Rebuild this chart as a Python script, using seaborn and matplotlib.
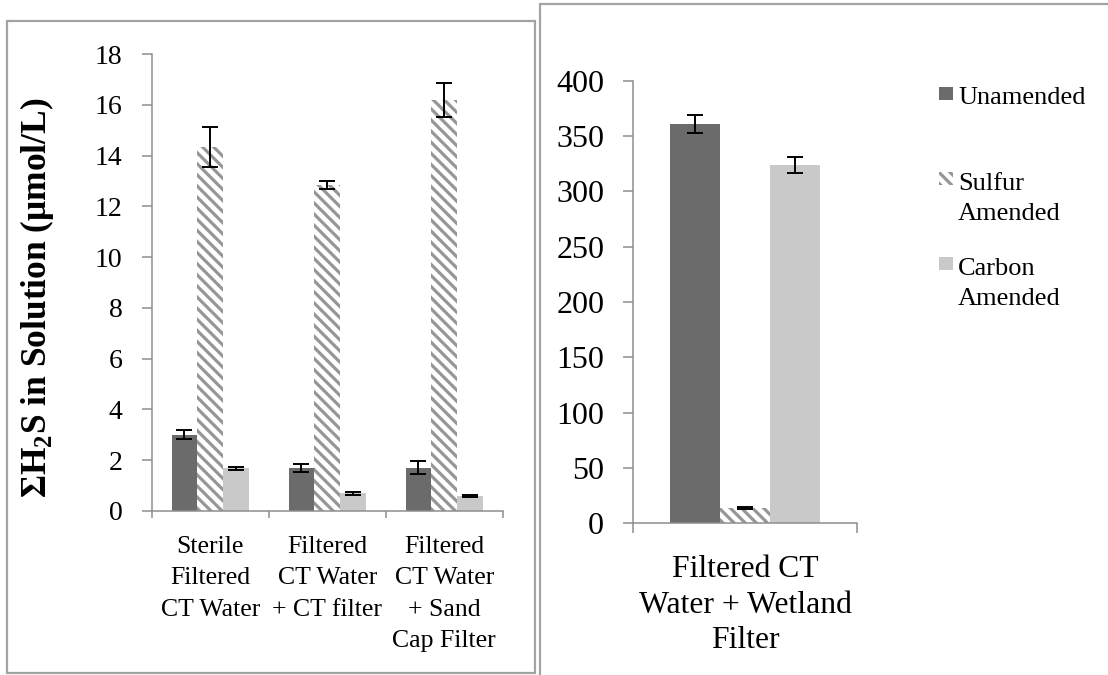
import numpy as np
import pandas as pd
import matplotlib
matplotlib.use("Agg")
import matplotlib.pyplot as plt
import seaborn as sns
from matplotlib.patches import Rectangle
from matplotlib.ticker import FixedLocator, NullFormatter

# ---- data -------------------------------------------------------------
treatments = ["Unamended", "Sulfur Amended", "Carbon Amended"]
legend_labels = ["Unamended", "Sulfur\nAmended", "Carbon\nAmended"]

left_sites = [
    "Sterile\nFiltered\nCT Water",
    "Filtered\nCT Water\n+ CT filter",
    "Filtered\nCT Water\n+ Sand\nCap Filter",
]
left_unamended = [3.00, 1.70, 1.70]
left_unamended_err = [0.18, 0.17, 0.25]
left_sulfur = [14.33, 12.83, 16.19]
left_sulfur_err = [0.80, 0.15, 0.66]
left_carbon = [1.68, 0.70, 0.59]
left_carbon_err = [0.05, 0.06, 0.03]

right_sites = ["Filtered CT\nWater + Wetland\nFilter"]
right_unamended = [361.0]
right_unamended_err = [8.0]
right_sulfur = [14.0]
right_sulfur_err = [0.8]
right_carbon = [324.0]
right_carbon_err = [7.0]

left_yticks = [0, 2, 4, 6, 8, 10, 12, 14, 16, 18]
right_yticks = [0, 50, 100, 150, 200, 250, 300, 350, 400]

# ---- style ------------------------------------------------------------
sns.set_style("white")
plt.rcParams["font.family"] = ["Liberation Serif", "DejaVu Serif"]
plt.rcParams["mathtext.fontset"] = "custom"
plt.rcParams["mathtext.rm"] = "Liberation Serif"
plt.rcParams["mathtext.bf"] = "Liberation Serif:bold"
plt.rcParams["text.color"] = "black"
plt.rcParams["xtick.labelcolor"] = "black"
plt.rcParams["ytick.labelcolor"] = "black"
plt.rcParams["hatch.linewidth"] = 2.3
plt.rcParams["hatch.color"] = "#969696"

colors = {"Unamended": "#6b6b6b", "Sulfur Amended": "#ffffff", "Carbon Amended": "#c9c9c9"}
stripe = "#969696"
stripe_hatch = "\\\\\\"
axis_gray = "#8e8e8e"

W, H = 1108, 675
fig = plt.figure(figsize=(W / 100, H / 100), dpi=100)


def px_rect(x0, y0, x1, y1):
    """Figure-fraction rectangle from pixel corners (origin top-left)."""
    return [x0 / W, 1 - y1 / H, (x1 - x0) / W, (y1 - y0) / H]


def build_frame(sites, series):
    rows = []
    for name, (vals, errs) in zip(treatments, series):
        for s, v, e in zip(sites, vals, errs):
            rows.append({"site": s, "treatment": name, "value": v, "err": e})
    return pd.DataFrame(rows)


def draw_panel(ax, df, sites, width, yticks, tick_fs, cat_fs, cat_pad, cat_ls, minor_len):
    sns.barplot(data=df, x="site", y="value", hue="treatment", order=sites,
                hue_order=treatments, palette=colors, width=width, errorbar=None,
                saturation=1, linewidth=0, legend=False, ax=ax)
    for name, cont in zip(treatments, ax.containers):
        sub = df[df["treatment"] == name].set_index("site").loc[sites]
        for bar, (v, e) in zip(cont, zip(sub["value"], sub["err"])):
            if name == "Sulfur Amended":
                bar.set_facecolor("white")
                bar.set_hatch(stripe_hatch)
                bar.set_edgecolor(stripe)
                bar.set_linewidth(0)
            cx = bar.get_x() + bar.get_width() / 2
            ax.errorbar(cx, v, yerr=e, color="black", lw=1.4, capsize=5.5,
                        capthick=1.4, zorder=5)
    ax.set_xlim(-0.5, len(sites) - 0.5)
    ax.set_ylim(yticks[0], yticks[-1])
    ax.set_yticks(yticks)
    ax.set_xlabel("")
    ax.set_ylabel("")
    for s in ("top", "right"):
        ax.spines[s].set_visible(False)
    for s in ("left", "bottom"):
        ax.spines[s].set_color(axis_gray)
        ax.spines[s].set_linewidth(1.1)
    ax.tick_params(axis="y", direction="out", length=7, width=1.1, color=axis_gray,
                   labelsize=tick_fs, labelcolor="black", pad=14, left=True)
    ax.tick_params(axis="x", which="major", length=0, labelsize=cat_fs,
                   labelcolor="black", pad=cat_pad)
    ax.xaxis.set_minor_locator(FixedLocator(np.arange(-0.5, len(sites), 1.0)))
    ax.xaxis.set_minor_formatter(NullFormatter())
    ax.tick_params(axis="x", which="minor", direction="out", length=minor_len,
                   width=1.1, color=axis_gray, bottom=True)
    for lab in ax.get_xticklabels():
        lab.set_linespacing(cat_ls)


# ---- left panel -------------------------------------------------------
left_df = build_frame(left_sites, [(left_unamended, left_unamended_err),
                                   (left_sulfur, left_sulfur_err),
                                   (left_carbon, left_carbon_err)])
axL = fig.add_axes(px_rect(151.7, 54, 502.7, 511))
draw_panel(axL, left_df, left_sites, 0.66, left_yticks, 20, 18.5, 18, 1.55, 5)

# ---- right panel ------------------------------------------------------
right_df = build_frame(right_sites, [(right_unamended, right_unamended_err),
                                     (right_sulfur, right_sulfur_err),
                                     (right_carbon, right_carbon_err)])
axR = fig.add_axes(px_rect(633.3, 80.8, 857.3, 523.3))
draw_panel(axR, right_df, right_sites, 0.67, right_yticks, 23, 22.8, 23, 1.3, 7)

# ---- axis title ----------------------------------------------------------
fig.text(37 / W, 1 - 298 / H, "ΣH$_\\mathbf{2}$S in Solution (μmol/L)",
         rotation=90, ha="center", va="center", fontsize=25.5, fontweight="bold",
         color="black")

# ---- panel frames -----------------------------------------------------------
fig.add_artist(Rectangle((7 / W, 1 - 673 / H), 528 / W, 652 / H,
                         transform=fig.transFigure, fill=False,
                         edgecolor="#a3a3a3", lw=1.6))
fig.add_artist(Rectangle((540 / W, -0.1), 1.0, 1.1 - 4 / H,
                         transform=fig.transFigure, fill=False,
                         edgecolor="#a3a3a3", lw=1.6))

# ---- legend -------------------------------------------------------------
legend_rows = [(87, 104), (172, 190), (257, 275)]  # square top, first baseline (px)
line_step = 30
for name, label, (sq_top, base) in zip(treatments, legend_labels, legend_rows):
    sq = Rectangle((939 / W, 1 - (sq_top + 13) / H), 14 / W, 13 / H,
                   transform=fig.transFigure, facecolor=colors[name], lw=0)
    if name == "Sulfur Amended":
        sq.set_hatch(stripe_hatch)
        sq.set_edgecolor(stripe)
    fig.add_artist(sq)
    for i, line in enumerate(label.split("\n")):
        fig.text(958 / W, 1 - (base + i * line_step) / H, line, ha="left",
                 va="baseline", fontsize=19, color="black")

fig.savefig("out.png", dpi=100)
